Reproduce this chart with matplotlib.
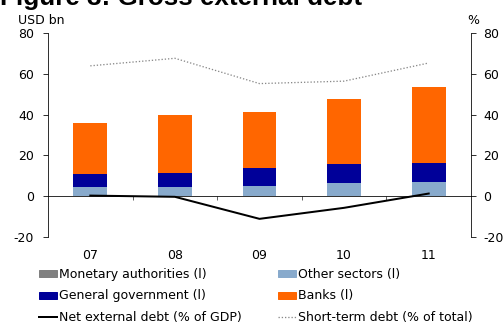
import matplotlib
matplotlib.use("Agg")
import matplotlib.pyplot as plt
from matplotlib.patches import Patch
from matplotlib.lines import Line2D
import numpy as np

years = ["07", "08", "09", "10", "11"]
monetary = [0.0, 0.0, 0.0, 0.0, 0.0]
other_sectors = [4.4, 4.6, 5.2, 6.4, 6.9]
general_gov = [6.7, 6.8, 8.5, 9.3, 9.6]
banks = [24.8, 28.3, 27.5, 31.8, 36.9]
net_ext_debt = [0.3, -0.3, -11.1, -5.7, 1.3]
short_term = [63.9, 67.6, 55.2, 56.4, 65.3]

c_mon = "#808080"
c_oth = "#88AACC"
c_gov = "#000099"
c_bank = "#FF6600"
c_short = "#888888"

plt.rcParams['font.family'] = ['DejaVu Sans']
plt.rcParams['axes.unicode_minus'] = False
fs = 12.5
fig = plt.figure(figsize=(7, 4.5), dpi=72)
ax = fig.add_axes([48/504, 1-237/324, (471-48)/504, (237-33)/324])

x = np.arange(len(years))
w = 0.4
b0 = np.array(monetary)
ax.bar(x, monetary, w, color=c_mon, zorder=2)
ax.bar(x, other_sectors, w, bottom=b0, color=c_oth, zorder=2)
b1 = b0 + np.array(other_sectors)
ax.bar(x, general_gov, w, bottom=b1, color=c_gov, zorder=2)
b2 = b1 + np.array(general_gov)
ax.bar(x, banks, w, bottom=b2, color=c_bank, zorder=2)

ax.plot(x, net_ext_debt, color="black", lw=2, zorder=3)
ax.plot(x, short_term, color=c_short, lw=1.3, linestyle=(0, (1, 1.5)), zorder=3)

ax.set_xlim(-0.5, len(years) - 0.5)
ax.set_ylim(-20, 80)
ax.set_yticks([-20, 0, 20, 40, 60, 80])
ax.spines['top'].set_visible(False)
ax.spines['right'].set_visible(False)
ax.spines['bottom'].set_position(('data', 0))
ax.spines['bottom'].set_zorder(4)
ax.set_xticks(x)
ax.set_xticklabels(years)
ax.set_xticks(np.arange(0.5, len(years) - 1, 1.0), minor=True)
ax.tick_params(axis='x', which='major', length=0, pad=53, labelsize=fs)
ax.tick_params(axis='x', which='minor', length=4, direction='out')
ax.tick_params(axis='y', length=5, direction='out', labelsize=fs, pad=9)

ax2 = ax.twinx()
ax2.set_ylim(-20, 80)
ax2.set_yticks([-20, 0, 20, 40, 60, 80])
for s in ['top', 'bottom', 'left']:
    ax2.spines[s].set_visible(False)
ax2.tick_params(axis='y', length=5, direction='out', labelsize=fs, pad=7)

fig.text(18/504, 1-20/324, "USD bn", fontsize=fs, va='center', ha='left')
fig.text(473/504, 1-20/324, "%", fontsize=fs, va='center', ha='center')
fig.text(0, 1-5/324, "Figure 3: Gross external debt", fontsize=26, fontweight='bold',
         family='Liberation Sans', va='baseline', ha='left')

handles = [
    Patch(color=c_mon), Patch(color=c_gov),
    Line2D([], [], color='black', lw=2),
    Patch(color=c_oth), Patch(color=c_bank),
    Line2D([], [], color=c_short, lw=1.3, linestyle=(0, (1, 1.5))),
]
labels = ["Monetary authorities (l)", "General government (l)", "Net external debt (% of GDP)",
          "Other sectors (l)", "Banks (l)", "Short-term debt (% of total)"]
fig.legend(handles, labels, ncol=2, loc='upper left', bbox_to_anchor=(39/504, 1-268/324),
           frameon=False, fontsize=fs, handlelength=1.44, handleheight=0.5, handletextpad=0.16,
           columnspacing=2.9, labelspacing=0.68, borderpad=0, borderaxespad=0)

fig.savefig("out.png", dpi=72)
